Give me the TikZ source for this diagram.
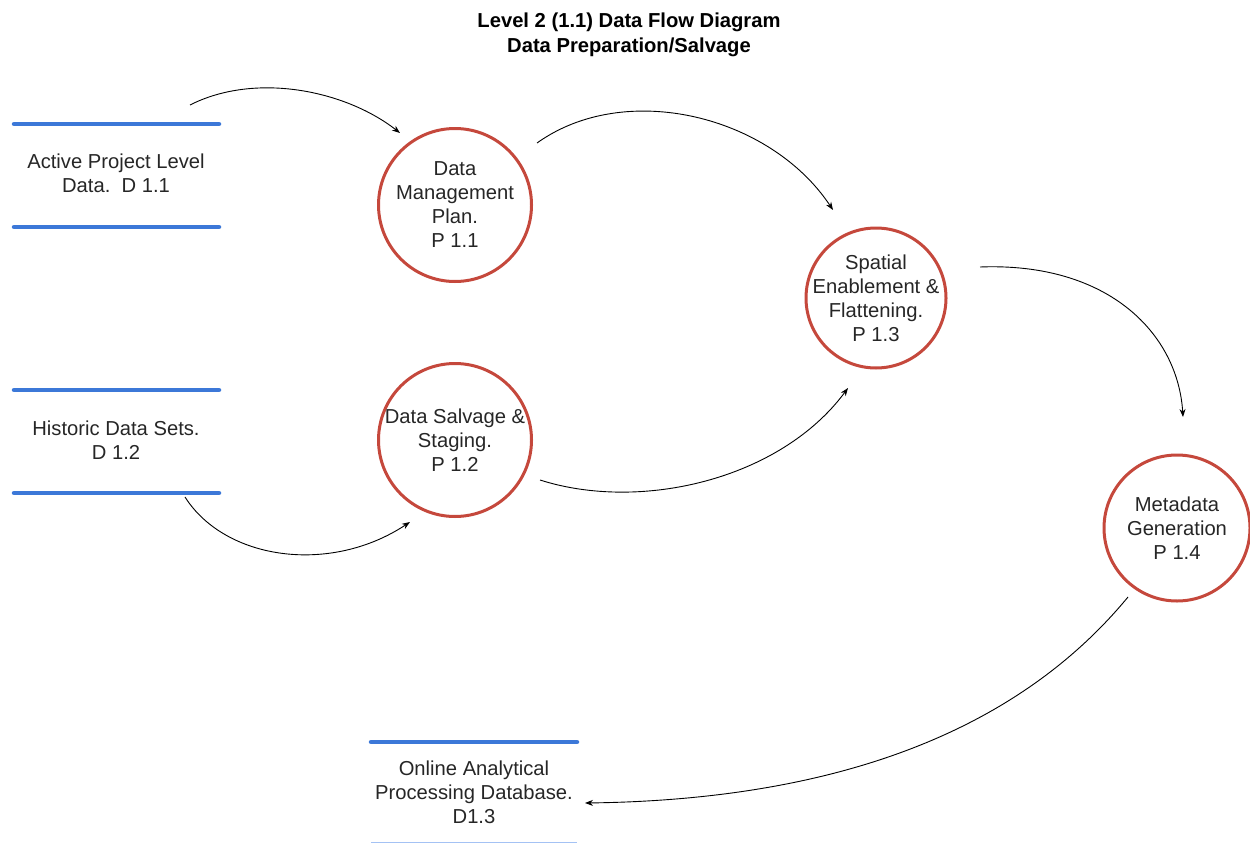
\documentclass[tikz,border=0pt]{standalone}
\usepackage{fontspec}
\setmainfont{Liberation Sans}
\usetikzlibrary{arrows.meta}
\definecolor{procred}{HTML}{C5483C}
\definecolor{storeblue}{HTML}{3C78D8}
\definecolor{lightblue}{HTML}{A4C2F4}
\begin{document}
\begin{tikzpicture}[x=1pt,y=-1pt,
  txt/.style={font=\fontsize{20.2}{24}\selectfont, align=center, inner sep=0pt, text=black!85},
  proc/.style={circle, draw=procred, line width=3pt, minimum size=#1, inner sep=0pt},
  storeline/.style={draw=storeblue, line width=4.5pt, line cap=round},
  flow/.style={draw=black, line width=0.9pt, -{Stealth[length=8pt,width=6pt]}},
  ttl/.style={font=\bfseries\fontsize{20.2}{25}\selectfont, align=center, inner sep=0pt}]
\useasboundingbox (0,0) rectangle (1250,843);

% title
\node[ttl] (title) at (629,35) {Level 2 (1.1) Data Flow Diagram\\Data Preparation/Salvage};

% processes
\node[proc=153pt] (p11) at (455,205) {};
\node[txt] (p11t) at (p11.center) {Data\\Management\\Plan.\\P 1.1};
\node[proc=153pt] (p12) at (455,440) {};
\node[txt] (p12t) at (p12.center) {Data Salvage \&\\Staging.\\P 1.2};
\node[proc=140pt] (p13) at (876,298) {};
\node[txt] (p13t) at (p13.center) {Spatial\\Enablement \&\\Flattening.\\P 1.3};
\node[proc=146pt] (p14) at (1177,528) {};
\node[txt] (p14t) at (p14.center) {Metadata\\Generation\\P 1.4};

% data stores
\draw[storeline] (14,124) -- (219,124);
\draw[storeline] (14,227) -- (219,227);
\node[txt] (d11) at (116,173) {Active Project Level\\Data.\ \ D 1.1};

\draw[storeline] (14,390) -- (219,390);
\draw[storeline] (14,493) -- (219,493);
\node[txt] (d12) at (116,440) {Historic Data Sets.\\D 1.2};

\draw[storeline] (371,742) -- (577,742);
\draw[draw=lightblue, line width=1.5pt] (371,842.5) -- (577,842.5);
\node[txt] (d13) at (474,792) {Online Analytical\\Processing Database.\\D1.3};

% connector end points
\coordinate (a1s) at (190,105);
\coordinate (a1e) at (400,133);
\coordinate (a2s) at (537,143);
\coordinate (a2e) at (833,210);
\coordinate (a3s) at (185,497);
\coordinate (a3e) at (410,522);
\coordinate (a4s) at (540,480);
\coordinate (a4e) at (848,388);
\coordinate (a5s) at (980,267);
\coordinate (a5e) at (1183,417);
\coordinate (a6s) at (1128,597);
\coordinate (a6e) at (585,803);

% flows
\draw[flow] (a1s) .. controls (255,72) and (345,90) .. (a1e);
\draw[flow] (a2s) .. controls (625,80) and (770,115) .. (a2e);
\draw[flow] (a3s) .. controls (225,560) and (330,575) .. (a3e);
\draw[flow] (a4s) .. controls (640,512) and (780,480) .. (a4e);
\draw[flow] (a5s) .. controls (1110,262) and (1178,335) .. (a5e);
\draw[flow] (a6s) .. controls (1010,740) and (820,800) .. (a6e);
\end{tikzpicture}
\end{document}
